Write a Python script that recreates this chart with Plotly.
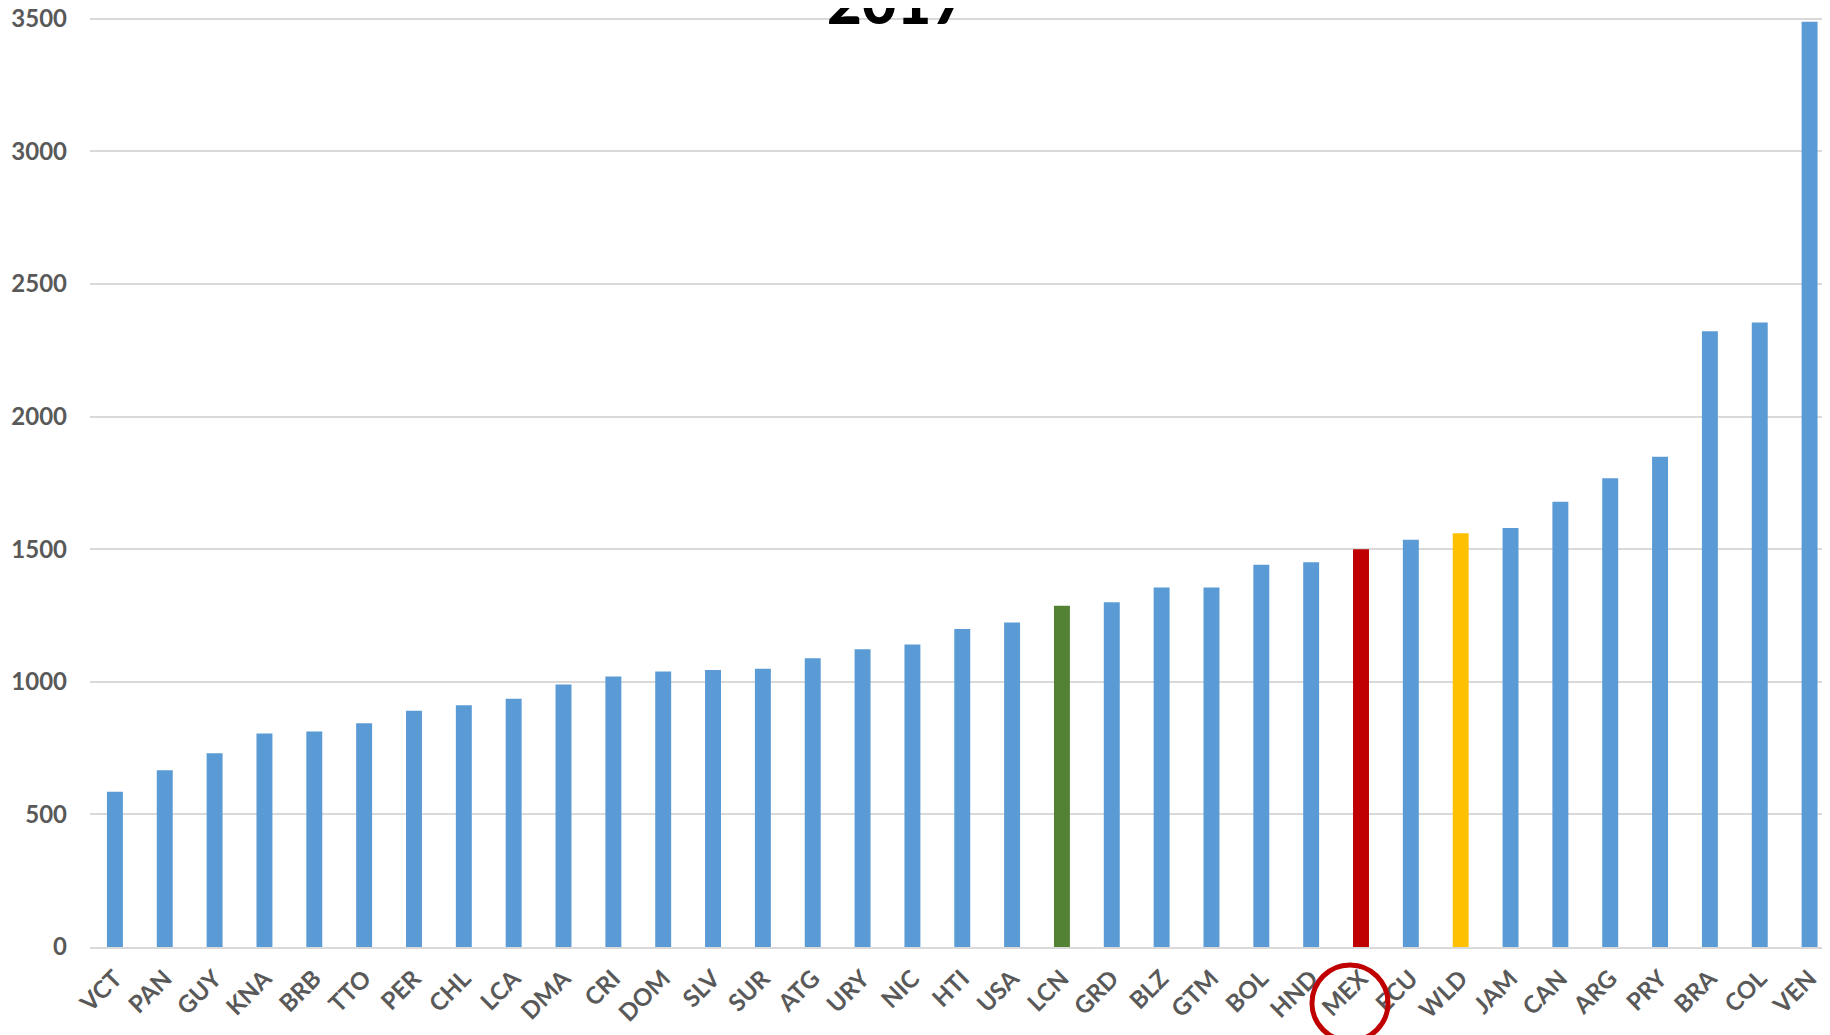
import plotly.graph_objects as go

countries = ["VCT", "PAN", "GUY", "KNA", "BRB", "TTO", "PER", "CHL", "LCA", "DMA",
             "CRI", "DOM", "SLV", "SUR", "ATG", "URY", "NIC", "HTI", "USA", "LCN",
             "GRD", "BLZ", "GTM", "BOL", "HND", "MEX", "ECU", "WLD", "JAM", "CAN",
             "ARG", "PRY", "BRA", "COL", "VEN"]
values = [585, 666, 730, 805, 812, 844, 891, 911, 936, 990,
          1020, 1039, 1044, 1049, 1089, 1123, 1140, 1199, 1223, 1287,
          1300, 1355, 1355, 1441, 1451, 1500, 1535, 1560, 1580, 1679,
          1767, 1848, 2321, 2354, 3488]
y_ticks = [0, 500, 1000, 1500, 2000, 2500, 3000, 3500]
title_text = "2017"

BLUE = "#5B9BD5"
highlight = {"MEX": "#C00000", "LCN": "#548235", "WLD": "#FFC000"}
colors = [highlight.get(c, BLUE) for c in countries]

label_font = dict(family="Lato, 'Open Sans', sans-serif", size=24, color="#595959", weight="bold")

fig = go.Figure(go.Bar(
    x=countries, y=values, marker=dict(color=colors, line=dict(width=0)),
))

fig.update_layout(
    width=1830, height=1035,
    margin=dict(l=82, r=0, t=8, b=96, autoexpand=False),
    paper_bgcolor="white", plot_bgcolor="white",
    bargap=0.68, showlegend=False,
    font=label_font,
)
fig.update_xaxes(
    type="category", range=[-0.5, 34.57], tickangle=-45, tickfont=label_font,
    showgrid=False, showline=True, linecolor="#D9D9D9", linewidth=2,
    ticks="", automargin=False, ticklabelstandoff=6, fixedrange=True,
)
fig.update_yaxes(
    range=[0, 3510], tickvals=y_ticks, tickfont=label_font,
    showgrid=True, gridcolor="#D9D9D9", gridwidth=2, zeroline=False,
    showline=False, ticks="", automargin=False, ticklabelstandoff=22,
    ticklabeloverflow="allow",
)

# title (only its last line is visible in the cropped original)
fig.add_annotation(
    text=title_text, xref="paper", yref="paper", x=0.4613, y=1,
    xanchor="center", yanchor="bottom", yshift=-23, showarrow=False,
    font=dict(family="Lato, 'Open Sans', sans-serif", size=60, color="black", weight=900),
)

# red circle around the MEX label
fig.add_shape(
    type="circle", xref="x", yref="paper",
    xsizemode="pixel", ysizemode="pixel",
    xanchor="MEX", yanchor=0,
    x0=-49, x1=27, y0=-94, y1=-18,
    line=dict(color="#C00000", width=5), fillcolor="rgba(0,0,0,0)",
)

fig.write_html("out.html")
